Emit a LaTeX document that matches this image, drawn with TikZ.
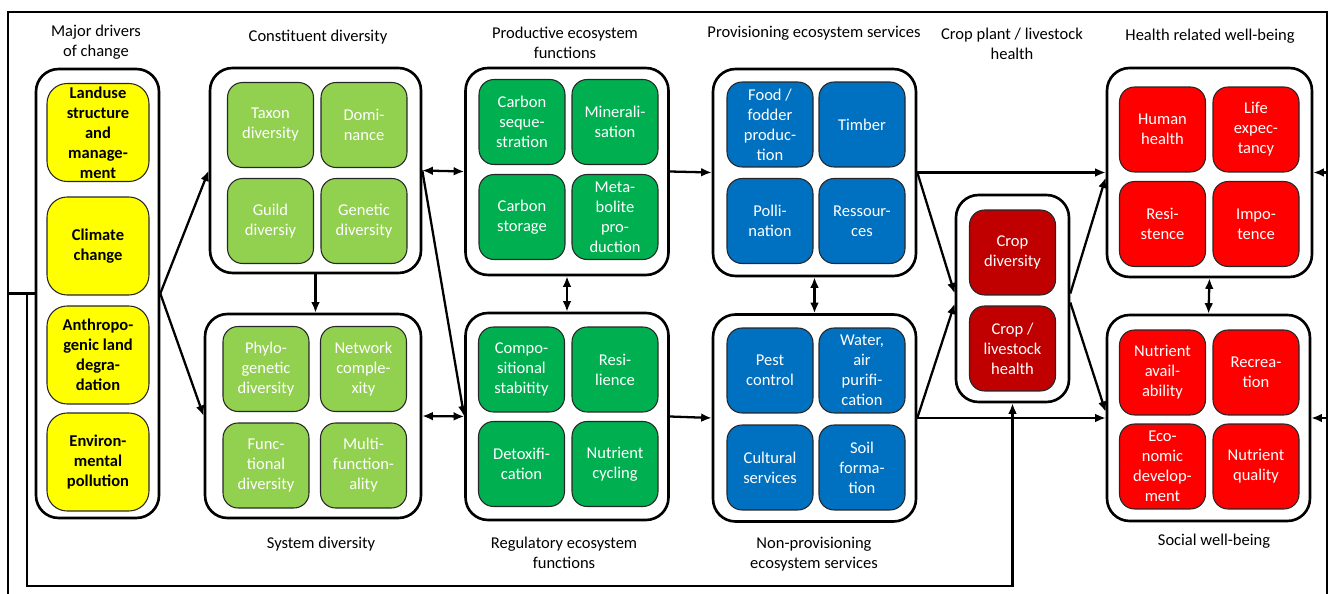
\documentclass[tikz,border=0pt]{standalone}
\usepackage{fontspec}
\setmainfont{Carlito}
\usetikzlibrary{arrows.meta}
\definecolor{drvyellow}{HTML}{FFFF00}
\definecolor{lgreen}{HTML}{92D050}
\definecolor{dgreen}{HTML}{00B050}
\definecolor{esblue}{HTML}{0070C0}
\definecolor{dred}{HTML}{C00000}
\definecolor{wbred}{HTML}{FF0000}
\newcommand{\boxfont}{\fontsize{9.4}{11.4}\selectfont}
\tikzset{
	grp/.style={draw, line width=1.5pt, rounded corners=0.45cm, minimum width=4.06cm, minimum height=4.14cm},
	cell/.style={draw=black!85, line width=0.6pt, fill=#1, rounded corners=0.3cm, minimum width=1.72cm, minimum height=1.7cm, inner sep=0pt, align=center, text=white, font=\boxfont},
	ybox/.style={draw=black!85, line width=0.6pt, fill=drvyellow, rounded corners=0.4cm, minimum width=2.04cm, minimum height=1.96cm, inner sep=0pt, align=center, font=\boxfont\bfseries},
	ttl/.style={align=center, font=\boxfont, inner sep=0pt},
	arr/.style={line width=1.3pt, -{Latex[length=6pt,width=5pt]}},
	darr/.style={line width=1.3pt, {Latex[length=6pt,width=5pt]}-{Latex[length=6pt,width=5pt]}},
	loop/.style={line width=1.5pt}
}
\begin{document}
\begin{tikzpicture}[x=0.02cm, y=-0.02cm]
	\useasboundingbox (0,0) rectangle (1329,594);
	% group frames
	\node[grp, minimum width=2.46cm, minimum height=8.98cm] (drv) at (97.5,293.5) {};
	\node[grp, minimum width=4.22cm, minimum height=4.1cm] (con) at (315.5,170.5) {};
	\node[grp, minimum width=4.32cm, minimum height=4.08cm] (sys) at (313,416) {};
	\node[grp] (prod) at (567,171.5) {};
	\node[grp] (reg) at (567,416.5) {};
	\node[grp] (prov) at (814.5,172.5) {};
	\node[grp] (npro) at (814.5,418) {};
	\node[grp, minimum width=2.26cm] (crop) at (1012.5,298.5) {};
	\node[grp, minimum width=4.1cm, minimum height=4.18cm] (hlth) at (1209.5,172.5) {};
	\node[grp, minimum width=4.06cm, minimum height=4.12cm] (soc) at (1208.5,418) {};
	% titles
	\node[ttl] (tdrv) at (96,42) {Major drivers\\of change};
	\node[ttl] (tcon) at (318,37) {Constituent diversity};
	\node[ttl] (tprod) at (565,43) {Productive ecosystem\\functions};
	\node[ttl] (tprov) at (814,33) {Provisioning ecosystem services};
	\node[ttl] (tcrop) at (1012,44) {Crop plant / livestock\\health};
	\node[ttl] (thlth) at (1210,36) {Health related well-being};
	\node[ttl] (tsys) at (321,544) {System diversity};
	\node[ttl] (treg) at (564,553) {Regulatory ecosystem\\functions};
	\node[ttl] (tnpro) at (814,554) {Non-provisioning\\ecosystem services};
	\node[ttl] (tsoc) at (1214,541) {Social well-being};
	% drivers
	\node[ybox] (d1) at (98,132.5) {Landuse\\structure\\and\\manage-\\ment};
	\node[ybox] (d2) at (98,246) {Climate\\change};
	\node[ybox] (d3) at (98,355) {Anthropo-\\genic land\\degra-\\dation};
	\node[ybox] (d4) at (98,462) {Environ-\\mental\\pollution};
	% constituent / system diversity
	\node[cell=lgreen] (c1) at (270.5,125) {Taxon\\diversity};
	\node[cell=lgreen] (c2) at (364,125) {Domi-\\nance};
	\node[cell=lgreen] (c3) at (270.5,221) {Guild\\diversiy};
	\node[cell=lgreen] (c4) at (364,221) {Genetic\\diversity};
	\node[cell=lgreen] (s1) at (266,369) {Phylo-\\genetic\\diversity};
	\node[cell=lgreen] (s2) at (363.5,369) {Network\\comple-\\xity};
	\node[cell=lgreen] (s3) at (266,465.5) {Func-\\tional\\diversity};
	\node[cell=lgreen] (s4) at (363.5,465.5) {Multi-\\function-\\ality};
	% ecosystem functions
	\node[cell=dgreen] (p1) at (522,122) {Carbon\\seque-\\stration};
	\node[cell=dgreen] (p2) at (615,122) {Minerali-\\sation};
	\node[cell=dgreen] (p3) at (522,217) {Carbon\\storage};
	\node[cell=dgreen] (p4) at (615,217) {Meta-\\bolite\\pro-\\duction};
	\node[cell=dgreen] (r1) at (521.5,369.5) {Compo-\\sitional\\stabitity};
	\node[cell=dgreen] (r2) at (615,369.5) {Resi-\\lience};
	\node[cell=dgreen] (r3) at (521.5,464) {Detoxifi-\\cation};
	\node[cell=dgreen] (r4) at (615,464) {Nutrient\\cycling};
	% ecosystem services
	\node[cell=esblue] (v1) at (770,124.5) {Food /\\fodder\\produc-\\tion};
	\node[cell=esblue] (v2) at (862,124.5) {Timber};
	\node[cell=esblue] (v3) at (770,221) {Polli-\\nation};
	\node[cell=esblue] (v4) at (862,221) {Ressour-\\ces};
	\node[cell=esblue] (n1) at (770,370.5) {Pest\\control};
	\node[cell=esblue] (n2) at (862,370.5) {Water,\\air\\purifi-\\cation};
	\node[cell=esblue] (n3) at (770,467.5) {Cultural\\services};
	\node[cell=esblue] (n4) at (862,467.5) {Soil\\forma-\\tion};
	% crop / livestock
	\node[cell=dred] (k1) at (1012.5,252.5) {Crop\\diversity};
	\node[cell=dred] (k2) at (1012.5,348.5) {Crop /\\livestock\\health};
	% well-being
	\node[cell=wbred] (h1) at (1162.5,129.5) {Human\\health};
	\node[cell=wbred] (h2) at (1256,129.5) {Life\\expec-\\tancy};
	\node[cell=wbred] (h3) at (1162.5,224) {Resi-\\stence};
	\node[cell=wbred] (h4) at (1256,224) {Impo-\\tence};
	\node[cell=wbred] (w1) at (1162.5,372.5) {Nutrient\\avail-\\ability};
	\node[cell=wbred] (w2) at (1256,372.5) {Recrea-\\tion};
	\node[cell=wbred] (w3) at (1162.5,466.5) {Eco-\\nomic\\develop-\\ment};
	\node[cell=wbred] (w4) at (1256,466.5) {Nutrient\\quality};
	% connectors
	\draw[arr] (drv.east) -- (con.west);
	\draw[arr] (drv.east) -- (sys.west);
	\draw[arr] (con.south) -- (con.south |- sys.north);
	\draw[darr] (con.east) -- (prod.west);
	\draw[arr] (con.east) -- (reg.west);
	\draw[darr] (sys.east) -- (reg.west);
	\draw[darr] (prod.south) -- (reg.north);
	\draw[arr] (prod.east) -- (prov.west);
	\draw[arr] (reg.east) -- (npro.west);
	\draw[darr] (prov.south) -- (npro.north);
	\draw[arr] (prov.east) -- (hlth.west);
	\draw[arr] (npro.east) -- (soc.west);
	\draw[arr] (prov.east) -- ([yshift=0.1cm]crop.west);
	\draw[arr] (npro.east) -- ([yshift=-0.1cm]crop.west);
	\draw[arr] ([yshift=0.1cm]crop.east) -- ([yshift=-0.1cm]hlth.west);
	\draw[arr] ([yshift=-0.08cm]crop.east) -- ([yshift=0.12cm]soc.west);
	\draw[darr] (hlth.south) -- (soc.north);
	% feedback loops
	\coordinate (lb) at (8,600);
	\coordinate (lt) at (8,12);
	\coordinate (rt) at (1327,12);
	\coordinate (rb) at (1327,600);
	\coordinate (ib) at (27,586);
	\draw[loop] (lb) -- (lt) -- (rt) -- (rb);
	\draw[loop] (lb |- drv.west) -- (drv.west);
	\draw[arr, line width=1.5pt] (rt |- hlth.east) -- (hlth.east);
	\draw[arr, line width=1.5pt] (rt |- soc.east) -- (soc.east);
	\draw[arr, line width=1.5pt] (ib |- drv.west) -- (ib) -- (ib -| crop.south) -- (crop.south);
\end{tikzpicture}
\end{document}
